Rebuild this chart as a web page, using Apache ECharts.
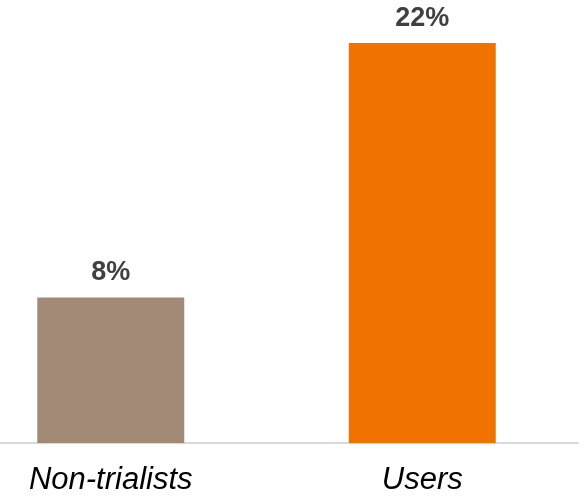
<!DOCTYPE html>
<html><head><meta charset="utf-8">
<script src="https://cdn.jsdelivr.net/npm/echarts@6/dist/echarts.min.js"></script>
<style>html,body{margin:0;padding:0;background:#fff;overflow:hidden;width:585px;height:496px}#c{width:630px;height:496px;margin-left:-45px}</style>
</head><body><div id="c"></div>
<script>
var categories = ['Non-trialists', 'Users'];
var values = [8, 22];
var barColors = ['#A38A77', '#F07300'];

var chart = echarts.init(document.getElementById('c'), null, {renderer: 'canvas'});
chart.setOption({
  animation: false,
  grid: {left: 0, right: 7, top: 6.5, bottom: 52, containLabel: false},
  xAxis: {
    type: 'category',
    data: categories,
    axisLine: {show: true, lineStyle: {color: '#D9D9D9', width: 2}},
    axisTick: {show: false},
    axisLabel: {
      fontFamily: 'Liberation Sans, Arial, sans-serif',
      fontStyle: 'italic',
      fontSize: 31,
      color: '#000',
      margin: 22
    }
  },
  yAxis: {type: 'value', min: 0, max: 24, show: false, splitLine: {show: false}},
  series: [{
    type: 'bar',
    barWidth: 147,
    data: values.map(function (v, i) { return {value: v, itemStyle: {color: barColors[i]}}; }),
    label: {
      show: true,
      position: 'top',
      distance: 11,
      formatter: '{c}%',
      fontFamily: 'Liberation Sans, Arial, sans-serif',
      fontWeight: 'bold',
      fontSize: 27,
      color: '#404040'
    }
  }]
});
</script></body></html>
